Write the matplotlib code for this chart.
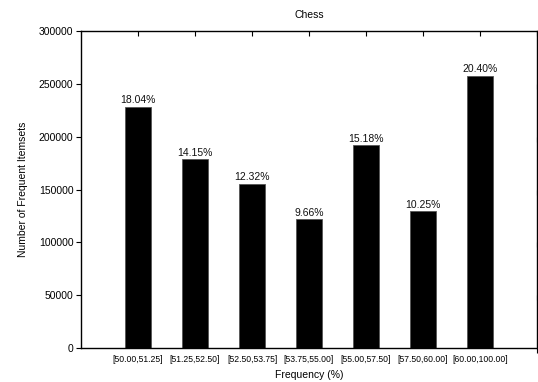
import matplotlib
matplotlib.use("Agg")
import matplotlib.pyplot as plt

categories = ["[50.00,51.25]", "[51.25,52.50]", "[52.50,53.75]", "[53.75,55.00]",
              "[55.00,57.50]", "[57.50,60.00]", "[60.00,100.00]"]
counts = [228000, 178500, 155500, 122000, 192000, 129500, 257500]
percent_labels = ["18.04%", "14.15%", "12.32%", "9.66%", "15.18%", "10.25%", "20.40%"]
yticks = [0, 50000, 100000, 150000, 200000, 250000, 300000]

plt.rcParams['font.family'] = ['Liberation Sans', 'DejaVu Sans']

fig = plt.figure(figsize=(5.38, 3.82), dpi=100)
ax = fig.add_axes([81/538, 34/382, 456/538, 317/382])

positions = list(range(1, len(categories) + 1))
ax.bar(positions, counts, width=0.46, color='black', edgecolor='#555555', linewidth=0.6, zorder=2)
for x, v, lab in zip(positions, counts, percent_labels):
    ax.text(x, v + 1500, lab, ha='center', va='bottom', fontsize=7.5, color='#111111')

ax.set_xlim(0, 8)
ax.set_ylim(0, 300000)
ax.set_yticks(yticks)
ax.set_yticklabels([str(t) for t in yticks])
ax.set_xticks(positions)
ax.set_xticklabels(categories)
ax.tick_params(axis='y', direction='out', length=3.5, width=0.8, labelsize=7.5, right=True, pad=2)
ax.tick_params(axis='x', direction='in', length=3.5, width=0.8, labelsize=6.2, top=True, pad=5)
for s in ax.spines.values():
    s.set_linewidth(1.0)
ax.set_title("Chess", fontsize=7.5, pad=9)
ax.set_xlabel("Frequency (%)", fontsize=7.5, labelpad=4)
ax.set_ylabel("Number of Frequent Itemsets", fontsize=7.5, labelpad=8)

# right ticks inward
ax.yaxis.set_tick_params(which='major', right=True)
for t in ax.yaxis.get_major_ticks():
    t.tick2line.set_marker(3)  # TICKLEFT marker for inward right ticks
    t.tick2line.set_markersize(3.5)

fig.savefig("out.png", dpi=100)
